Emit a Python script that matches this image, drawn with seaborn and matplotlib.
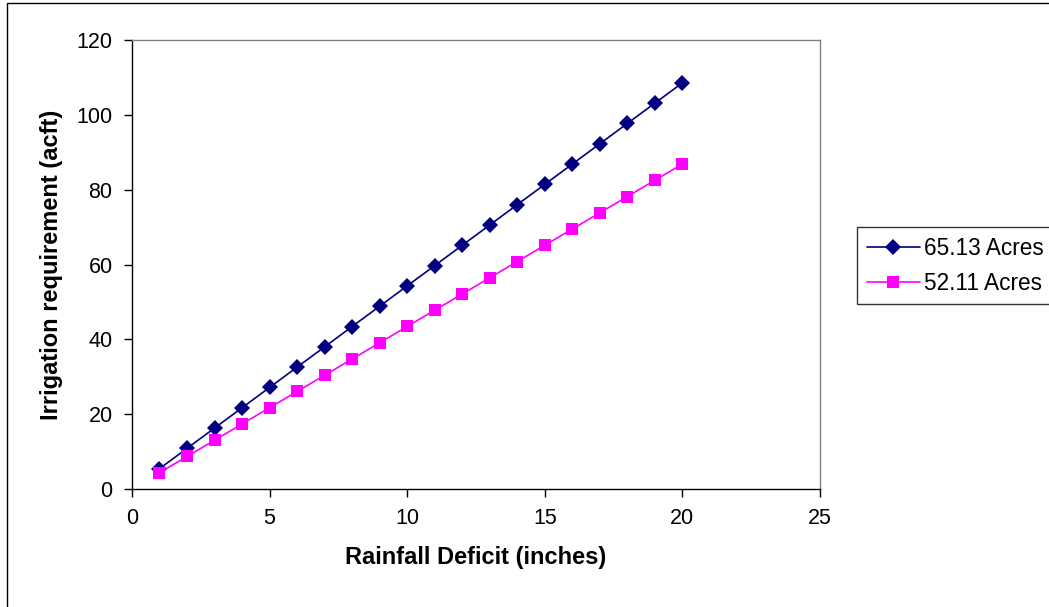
import matplotlib
matplotlib.use("Agg")
import matplotlib.pyplot as plt
import seaborn as sns
import pandas as pd
from matplotlib.patches import Rectangle

deficit = list(range(1, 21))
acres_65 = [5.43, 10.86, 16.28, 21.71, 27.14, 32.57, 37.99, 43.42, 48.85, 54.28,
            59.70, 65.13, 70.56, 75.99, 81.41, 86.84, 92.27, 97.70, 103.12, 108.55]
acres_52 = [4.34, 8.69, 13.03, 17.37, 21.71, 26.06, 30.40, 34.74, 39.08, 43.43,
            47.77, 52.11, 56.45, 60.80, 65.14, 69.48, 73.82, 78.17, 82.51, 86.85]
series_names = ["65.13 Acres", "52.11 Acres"]

df = pd.DataFrame({
    "x": deficit * 2,
    "y": acres_65 + acres_52,
    "series": [series_names[0]] * 20 + [series_names[1]] * 20,
})

sns.set_style("white")
plt.rcParams["font.family"] = ["Liberation Sans", "DejaVu Sans"]
plt.rcParams["text.color"] = "black"
plt.rcParams["xtick.color"] = "black"
plt.rcParams["ytick.color"] = "black"
plt.rcParams["axes.labelcolor"] = "black"

fig = plt.figure(figsize=(10.49, 6.07), dpi=100)
ax = fig.add_axes([0.1258, 0.1944, 0.6559, 0.7397])

sns.lineplot(data=df, x="x", y="y", hue="series", style="series",
             palette=["#000080", "#FF00FF"], markers=["D", "s"], dashes=False,
             markersize=8, linewidth=1.2, markeredgewidth=0, ax=ax)

ax.set_xlim(0, 25)
ax.set_ylim(0, 120)
ax.set_xticks([0, 5, 10, 15, 20, 25])
ax.set_yticks([0, 20, 40, 60, 80, 100, 120])
ax.tick_params(axis="both", labelsize=15.5, direction="out", length=6, width=1,
               bottom=True, left=True, pad=8, colors="black")
ax.set_xlabel("Rainfall Deficit (inches)", fontsize=17, fontweight="bold", labelpad=12)
ax.set_ylabel("Irrigation requirement (acft)", fontsize=17, fontweight="bold", labelpad=10)

for s in ["left", "bottom"]:
    ax.spines[s].set_color("black")
    ax.spines[s].set_linewidth(1)
for s in ["top", "right"]:
    ax.spines[s].set_color("#808080")
    ax.spines[s].set_linewidth(1)

leg = ax.legend(loc="upper left", bbox_to_anchor=(857 / 1049, 1 - 227 / 607),
                bbox_transform=fig.transFigure,
                fontsize=16.3, frameon=True, fancybox=False, edgecolor="black",
                borderpad=0.42, handlelength=2.35, handletextpad=0.2, labelspacing=0.55,
                borderaxespad=0)
leg.get_frame().set_linewidth(1)
for t in leg.get_texts():
    t.set_color("black")

fig.patches.append(Rectangle((7 / 1049, -0.01), 1.1, 1 - 3 / 607 + 0.01,
                             transform=fig.transFigure, fill=False,
                             edgecolor="black", linewidth=1))

fig.savefig("out.png", dpi=100)
